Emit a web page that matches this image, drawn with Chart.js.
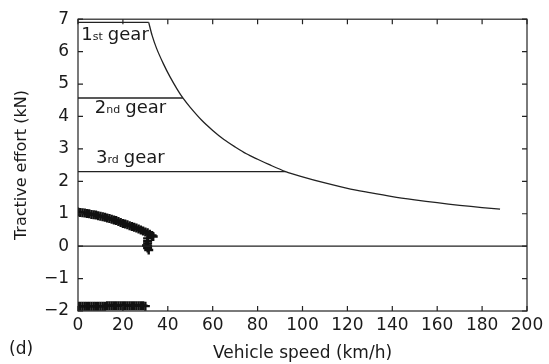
<!DOCTYPE html>
<html><head><meta charset="utf-8">
<script src="https://cdn.jsdelivr.net/npm/chart.js@4"></script>
<style>html,body{margin:0;padding:0;background:#fff}#wrap{width:549px;height:364px}</style>
</head><body><div id="wrap"><canvas id="c" width="549" height="364"></canvas></div>
<script>
// Gear limit lines (kN) and their end speeds (km/h)
const gearLevels = [6.9, 4.57, 2.30];
const gearEnds = [31.5, 46.7, 92.5];
const gearNames = [["1", "st"], ["2", "nd"], ["3", "rd"]];
const gearLabelPos = [[1.5, 6.35], [7.5, 4.11], [8, 2.56]];

// Max tractive effort envelope
const envSpeed = [31.5, 33, 35, 38, 41, 44, 46.7, 50, 55, 60, 65, 70, 75, 80, 85, 92.5, 100, 110, 120, 130, 140, 150, 160, 170, 180, 188];
const envForce = [6.9, 6.5, 6.1, 5.63, 5.22, 4.86, 4.57, 4.28, 3.89, 3.57, 3.29, 3.06, 2.85, 2.68, 2.52, 2.30, 2.14, 1.95, 1.78, 1.65, 1.53, 1.43, 1.34, 1.26, 1.19, 1.14];

// Operating points (markers)
const opSpeed = [0, 1, 2, 3, 4, 5, 6, 7, 8, 9, 10, 11, 12, 13, 14, 15, 16, 17, 18, 19, 20, 21, 22, 23, 24, 25, 26, 27, 28, 29, 30, 31, 32, 33, 33.5];
const opForce = [1.05, 1.04, 1.03, 1.02, 1.01, 1.0, 0.98, 0.97, 0.96, 0.94, 0.92, 0.91, 0.89, 0.87, 0.85, 0.83, 0.81, 0.79, 0.76, 0.73, 0.70, 0.68, 0.66, 0.63, 0.61, 0.58, 0.56, 0.53, 0.50, 0.47, 0.44, 0.41, 0.37, 0.33, 0.30];
const stopSpeed = [31, 31, 31, 31, 31, 31.5, 30.5];
const stopForce = [0.24, 0.15, 0.08, 0.0, -0.06, -0.12, 0.02];
const brakeSpeed = [0, 1, 2, 3, 4, 5, 6, 7, 8, 9, 10, 11, 12, 13, 14, 15, 16, 17, 18, 19, 20, 21, 22, 23, 24, 25, 26, 27, 28, 29, 30];
const brakeForce = [-1.85, -1.85, -1.85, -1.85, -1.85, -1.85, -1.85, -1.85, -1.85, -1.85, -1.85, -1.85, -1.85, -1.84, -1.84, -1.84, -1.84, -1.84, -1.84, -1.84, -1.84, -1.84, -1.84, -1.84, -1.84, -1.84, -1.84, -1.84, -1.84, -1.84, -1.85];

const xTicks = [0, 20, 40, 60, 80, 100, 120, 140, 160, 180, 200];
const yTicks = [-2, -1, 0, 1, 2, 3, 4, 5, 6, 7];

const FONT = "'DejaVu Sans', sans-serif";
const pts = (xs, ys) => xs.map((x, i) => ({x, y: ys[i]}));
const lineDs = (data) => ({data, showLine: true, pointRadius: 0, borderColor: '#222', borderWidth: 1.3, fill: false});
const markDs = (data) => ({data, showLine: false, pointStyle: 'cross', pointRadius: 4.5, borderColor: '#111', borderWidth: 2.4, backgroundColor: '#111'});

const datasets = [];
gearLevels.forEach((g, i) => datasets.push(lineDs([{x: 0, y: g}, {x: gearEnds[i], y: g}])));
datasets.push(lineDs(pts(envSpeed, envForce)));
datasets.push(lineDs([{x: 0, y: 0}, {x: 200, y: 0}]));
datasets.push(markDs(pts(opSpeed, opForce)));
datasets.push(markDs(pts(stopSpeed, stopForce)));
datasets.push(markDs(pts(brakeSpeed, brakeForce)));

const frame = {
  id: 'frame',
  afterDatasetsDraw(chart) {
    const {ctx, chartArea: a, scales: {x, y}} = chart;
    ctx.save();
    ctx.strokeStyle = '#222';
    ctx.lineWidth = 1.2;
    ctx.strokeRect(a.left, a.top, a.right - a.left, a.bottom - a.top);
    const L = 5;
    ctx.beginPath();
    xTicks.forEach(v => {
      const px = x.getPixelForValue(v);
      ctx.moveTo(px, a.bottom); ctx.lineTo(px, a.bottom - L);
      ctx.moveTo(px, a.top); ctx.lineTo(px, a.top + L);
    });
    yTicks.forEach(v => {
      const py = y.getPixelForValue(v);
      ctx.moveTo(a.left, py); ctx.lineTo(a.left + L, py);
      ctx.moveTo(a.right, py); ctx.lineTo(a.right - L, py);
    });
    ctx.stroke();
    // gear labels
    ctx.fillStyle = '#1a1a1a';
    ctx.textBaseline = 'alphabetic';
    gearNames.forEach((n, i) => {
      let px = x.getPixelForValue(gearLabelPos[i][0]);
      const py = y.getPixelForValue(gearLabelPos[i][1]);
      ctx.font = "18px " + FONT;
      ctx.fillText(n[0], px, py); px += ctx.measureText(n[0]).width;
      ctx.font = "11px " + FONT;
      ctx.fillText(n[1], px, py); px += ctx.measureText(n[1]).width + 5;
      ctx.font = "18px " + FONT;
      ctx.fillText("gear", px, py);
    });
    ctx.font = "17px " + FONT;
    ctx.textBaseline = 'middle';
    ctx.fillText("(d)", 9, 350);
    ctx.restore();
  }
};

new Chart(document.getElementById('c'), {
  type: 'scatter',
  data: {datasets},
  plugins: [frame],
  options: {
    responsive: false, animation: false, devicePixelRatio: 1,
    layout: {padding: {left: 0, top: 16, right: 22, bottom: 0}},
    plugins: {legend: {display: false}, tooltip: {enabled: false}},
    elements: {line: {tension: 0.3}},
    scales: {
      x: {
        type: 'linear', min: 0, max: 200,
        afterBuildTicks: s => { s.ticks = xTicks.map(v => ({value: v})); },
        grid: {display: false, drawTicks: false}, border: {display: false},
        ticks: {color: '#1a1a1a', font: {family: FONT, size: 17}, padding: 4, maxRotation: 0, autoSkip: false},
        title: {display: true, text: 'Vehicle speed (km/h)', color: '#1a1a1a', font: {family: FONT, size: 17}, padding: {top: 2, bottom: 0}},
        afterFit: s => { s.height = 53; }
      },
      y: {
        type: 'linear', min: -2, max: 7,
        afterBuildTicks: s => { s.ticks = yTicks.map(v => ({value: v})); },
        grid: {display: false, drawTicks: false}, border: {display: false},
        ticks: {color: '#1a1a1a', font: {family: FONT, size: 17}, padding: 9, autoSkip: false,
          callback: v => String(v).replace('-', '\u2212')},
        title: {display: true, text: 'Tractive effort (kN)', color: '#1a1a1a', font: {family: FONT, size: 16}, padding: {top: 12, bottom: 0}},
        afterFit: s => { s.width = 78; }
      }
    }
  }
});
</script></body></html>
